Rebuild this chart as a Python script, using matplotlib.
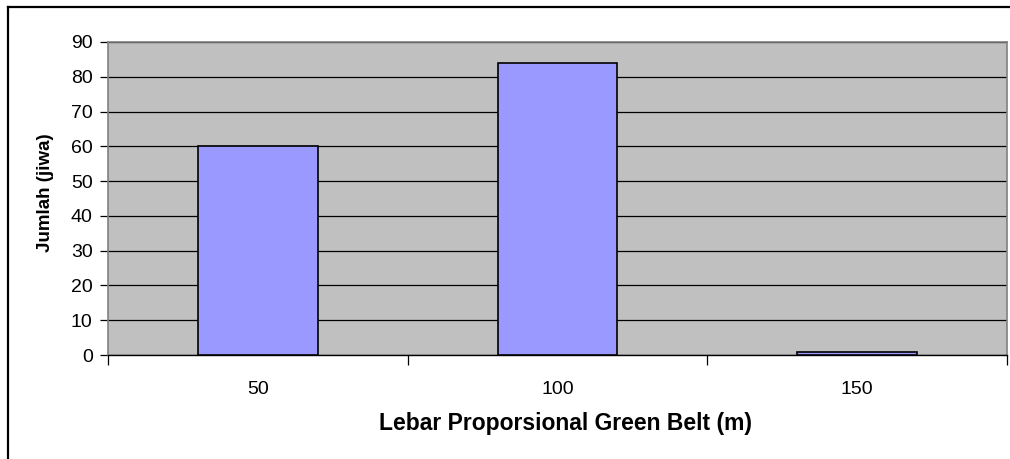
import matplotlib.pyplot as plt
from matplotlib.lines import Line2D

# lebar green belt (m) vs jumlah korban (jiwa)
lebar = ["50", "100", "150"]
jumlah = [60, 84, 1]

plt.rcParams['font.family'] = ['Liberation Sans', 'DejaVu Sans']

W, H = 1010, 459
fig = plt.figure(figsize=(W / 100, H / 100), dpi=100)
ax = fig.add_axes([108 / W, 1 - 355 / H, 899 / W, 313 / H])

# outer chart frame, only left and top edges fall inside the image
fig.add_artist(Line2D([7.5 / W, 7.5 / W], [-0.1, 1 - 6.5 / H], transform=fig.transFigure,
                      color='black', lw=1.6, solid_capstyle='projecting'))
fig.add_artist(Line2D([7.5 / W, 1.1], [1 - 6.5 / H, 1 - 6.5 / H], transform=fig.transFigure,
                      color='black', lw=1.6, solid_capstyle='projecting'))

ax.set_facecolor('#c0c0c0')
x = range(len(lebar))
ax.bar(x, jumlah, width=0.4, color='#9999ff', edgecolor='black', lw=1.2, zorder=3)

ax.set_ylim(0, 90)
ax.set_yticks(range(0, 91, 10))
ax.yaxis.grid(True, color='black', lw=0.9, zorder=1)
ax.set_axisbelow(True)

ax.set_xlim(-0.5, len(lebar) - 0.5)
ax.set_xticks([i - 0.5 for i in range(len(lebar) + 1)])
ax.set_xticklabels([])
ax.set_xticks(list(x), minor=True)
ax.set_xticklabels(lebar, minor=True)
ax.tick_params(axis='x', which='minor', length=0, pad=19, labelsize=14)
ax.tick_params(axis='x', which='major', length=7, color='black', width=0.9)
ax.tick_params(axis='y', length=6, color='black', width=0.9, labelsize=14, pad=5)

for side in ['top', 'right', 'left']:
    ax.spines[side].set_color('#808080')
    ax.spines[side].set_linewidth(1.2)
ax.spines['bottom'].set_color('black')
ax.spines['bottom'].set_linewidth(1.0)

ax.set_xlabel('Lebar Proporsional Green Belt (m)', fontsize=16.5,
              fontweight='bold')
ax.set_ylabel('Jumlah (jiwa)', fontsize=13.5, fontweight='bold')
ax.xaxis.set_label_coords(0.509, -0.218)
ax.yaxis.set_label_coords(-0.069, 0.52)
ax.xaxis.label.set_va('center')
ax.yaxis.label.set_va('center')

fig.savefig('out.png', dpi=100)
